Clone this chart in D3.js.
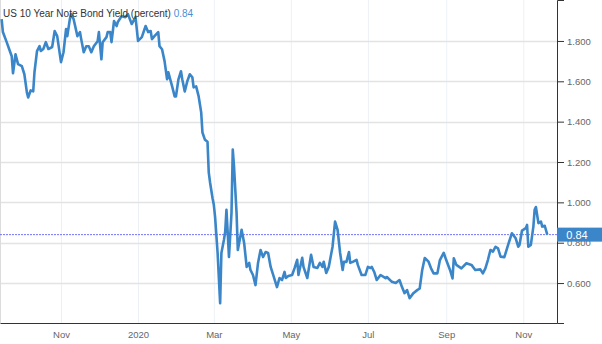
<!DOCTYPE html>
<html>
<head>
<meta charset="utf-8">
<script src="https://cdn.jsdelivr.net/npm/d3@7"></script>
<style>
body { margin: 0; background: #fff; }
svg { display: block; font-family: Arial, "Liberation Sans", sans-serif; }
</style>
</head>
<body>
<div id="chart"></div>
<script>
// US 10Y yield
const dates = [
    "2019-09-15", "2019-09-16", "2019-09-19", "2019-09-21", "2019-09-23", "2019-09-24", "2019-09-26", "2019-09-28",
    "2019-10-01", "2019-10-03", "2019-10-05", "2019-10-06", "2019-10-08", "2019-10-10", "2019-10-11", "2019-10-13",
    "2019-10-15", "2019-10-16", "2019-10-18", "2019-10-20", "2019-10-22", "2019-10-25", "2019-10-27", "2019-10-29",
    "2019-11-01", "2019-11-03", "2019-11-05", "2019-11-06", "2019-11-08", "2019-11-09", "2019-11-11", "2019-11-14",
    "2019-11-16", "2019-11-17", "2019-11-19", "2019-11-21", "2019-11-23", "2019-11-25", "2019-11-27", "2019-11-30",
    "2019-12-01", "2019-12-03", "2019-12-04", "2019-12-07", "2019-12-08", "2019-12-10", "2019-12-11", "2019-12-13",
    "2019-12-15", "2019-12-16", "2019-12-19", "2019-12-22", "2019-12-24", "2019-12-27", "2019-12-30",
    "2020-01-01", "2020-01-04", "2020-01-07", "2020-01-09", "2020-01-11", "2020-01-12", "2020-01-14", "2020-01-17",
    "2020-01-18", "2020-01-20", "2020-01-22", "2020-01-24", "2020-01-25", "2020-01-28", "2020-01-30", "2020-01-31",
    "2020-02-02", "2020-02-04", "2020-02-05", "2020-02-07", "2020-02-09", "2020-02-11", "2020-02-13", "2020-02-14",
    "2020-02-16", "2020-02-18", "2020-02-20", "2020-02-21", "2020-02-23", "2020-02-25", "2020-02-26", "2020-02-27",
    "2020-02-29", "2020-03-01", "2020-03-02", "2020-03-04", "2020-03-06", "2020-03-07", "2020-03-09", "2020-03-10",
    "2020-03-11", "2020-03-12", "2020-03-13", "2020-03-15", "2020-03-16", "2020-03-17", "2020-03-19", "2020-03-20",
    "2020-03-23", "2020-03-25", "2020-03-27", "2020-03-29", "2020-03-30", "2020-04-01", "2020-04-03", "2020-04-05",
    "2020-04-07", "2020-04-09", "2020-04-11", "2020-04-13", "2020-04-15", "2020-04-17", "2020-04-20", "2020-04-22",
    "2020-04-24", "2020-04-26", "2020-04-27", "2020-04-29", "2020-05-02", "2020-05-04", "2020-05-06", "2020-05-07",
    "2020-05-10", "2020-05-11", "2020-05-14", "2020-05-17", "2020-05-19", "2020-05-22", "2020-05-24", "2020-05-26",
    "2020-05-27", "2020-05-29", "2020-05-31", "2020-06-03", "2020-06-05", "2020-06-07", "2020-06-09", "2020-06-11",
    "2020-06-12", "2020-06-14", "2020-06-16", "2020-06-17", "2020-06-19", "2020-06-22", "2020-06-23", "2020-06-26",
    "2020-06-29", "2020-07-01", "2020-07-03", "2020-07-04", "2020-07-06", "2020-07-08", "2020-07-11", "2020-07-15",
    "2020-07-16", "2020-07-20", "2020-07-23", "2020-07-26", "2020-07-28", "2020-07-30", "2020-08-01", "2020-08-03",
    "2020-08-06", "2020-08-09", "2020-08-11", "2020-08-13", "2020-08-15", "2020-08-18", "2020-08-20", "2020-08-22",
    "2020-08-25", "2020-08-27", "2020-08-30", "2020-09-01", "2020-09-04", "2020-09-06", "2020-09-07", "2020-09-09",
    "2020-09-13", "2020-09-17", "2020-09-21", "2020-09-24", "2020-09-28", "2020-09-30", "2020-10-02", "2020-10-04",
    "2020-10-06", "2020-10-08", "2020-10-10", "2020-10-12", "2020-10-14", "2020-10-17", "2020-10-20", "2020-10-23",
    "2020-10-26", "2020-10-28", "2020-10-29", "2020-10-31", "2020-11-03", "2020-11-04", "2020-11-05", "2020-11-07",
    "2020-11-09", "2020-11-10", "2020-11-11", "2020-11-13", "2020-11-15", "2020-11-16", "2020-11-18", "2020-11-20"
];
const yields = [
    1.908, 1.844, 1.794, 1.759, 1.724, 1.640, 1.734, 1.685,
    1.675, 1.635, 1.545, 1.520, 1.555, 1.550, 1.645, 1.750,
    1.774, 1.750, 1.760, 1.794, 1.760, 1.770, 1.849, 1.824,
    1.695, 1.744, 1.859, 1.824, 1.908, 1.933, 1.908, 1.824,
    1.844, 1.809, 1.744, 1.774, 1.774, 1.744, 1.774, 1.799,
    1.844, 1.709, 1.794, 1.819, 1.844, 1.844, 1.794, 1.899,
    1.874, 1.894, 1.923, 1.918, 1.933, 1.884, 1.918,
    1.800, 1.819, 1.874, 1.844, 1.849, 1.809, 1.824, 1.844,
    1.774, 1.759, 1.700, 1.610, 1.645, 1.575, 1.525, 1.525,
    1.610, 1.650, 1.610, 1.550, 1.600, 1.635, 1.620, 1.570,
    1.575, 1.525, 1.446, 1.346, 1.310, 1.300, 1.147, 1.100,
    1.020, 0.988, 0.928, 0.749, 0.500, 0.749, 0.814, 0.854,
    0.963, 0.849, 0.729, 0.948, 1.262, 1.177, 0.948, 0.764,
    0.864, 0.799, 0.680, 0.700, 0.665, 0.640, 0.590, 0.700,
    0.764, 0.729, 0.754, 0.749, 0.680, 0.640, 0.580, 0.625,
    0.615, 0.655, 0.625, 0.635, 0.640, 0.675, 0.715, 0.640,
    0.725, 0.680, 0.625, 0.740, 0.680, 0.675, 0.700, 0.680,
    0.705, 0.650, 0.680, 0.780, 0.905, 0.864, 0.749, 0.665,
    0.705, 0.705, 0.754, 0.700, 0.705, 0.715, 0.690, 0.640,
    0.640, 0.680, 0.675, 0.680, 0.655, 0.615, 0.640, 0.624,
    0.630, 0.606, 0.600, 0.615, 0.580, 0.550, 0.565, 0.525,
    0.550, 0.565, 0.573, 0.665, 0.724, 0.706, 0.673, 0.648,
    0.648, 0.714, 0.750, 0.714, 0.665, 0.623, 0.723, 0.690,
    0.673, 0.698, 0.690, 0.665, 0.668, 0.648, 0.673, 0.714,
    0.764, 0.756, 0.780, 0.772, 0.731, 0.728, 0.789, 0.847,
    0.822, 0.780, 0.789, 0.860, 0.872, 0.888, 0.780, 0.789,
    0.880, 0.963, 0.977, 0.897, 0.905, 0.880, 0.884, 0.840
];
const yTicks = [0.6, 0.8, 1.0, 1.2, 1.4, 1.6, 1.8];
const xTickDates = ["2019-11-01", "2020-01-01", "2020-03-01", "2020-05-01", "2020-07-01", "2020-09-01", "2020-11-01"];
const xTickLabels = ["Nov", "2020", "Mar", "May", "Jul", "Sep", "Nov"];
const title = "US 10 Year Note Bond Yield (percent)";
const lastValue = 0.84;

const width = 602, height = 344;
const plotRight = 557, plotBottom = 323;
const lineColor = "#3a86c8";

const parse = d3.timeParse("%Y-%m-%d");
const data = dates.map((d, i) => ({ date: parse(d), value: yields[i] }));
const tickDates = xTickDates.map(parse);

const x = d3.scaleTime()
    .domain([new Date(2019, 8, 13, 17), new Date(2020, 10, 27, 17)])
    .range([0, plotRight]);

const y = d3.scaleLinear()
    .domain([0.402, 2.003])
    .range([plotBottom, 0]);

const svg = d3.select("#chart")
    .append("svg")
    .attr("width", width)
    .attr("height", height);

// grid
svg.append("g")
    .selectAll("line")
    .data(tickDates)
    .join("line")
    .attr("x1", d => x(d) + 0.5)
    .attr("x2", d => x(d) + 0.5)
    .attr("y1", 0)
    .attr("y2", plotBottom)
    .style("stroke", "#edf1f6");

svg.append("g")
    .selectAll("line")
    .data(yTicks)
    .join("line")
    .attr("x1", 0)
    .attr("x2", plotRight)
    .attr("y1", d => Math.round(y(d)) + 0.5)
    .attr("y2", d => Math.round(y(d)) + 0.5)
    .style("stroke", "#e3e3e3")
    .style("stroke-width", 1.5);

svg.append("line")
    .attr("x1", 0.5).attr("x2", 0.5)
    .attr("y1", 0).attr("y2", plotBottom)
    .style("stroke", "#dcdcdc");

// last value line
svg.append("line")
    .attr("x1", 0)
    .attr("x2", plotRight)
    .attr("y1", y(lastValue))
    .attr("y2", y(lastValue))
    .style("stroke", "#7373ff")
    .style("stroke-width", 1)
    .style("stroke-dasharray", "2,1");

// series
svg.append("path")
    .datum(data)
    .attr("d", d3.line().x(d => x(d.date)).y(d => y(d.value)))
    .style("fill", "none")
    .style("stroke", lineColor)
    .style("stroke-width", 2.6)
    .style("stroke-linejoin", "round");

// axes
const xAxis = svg.append("g")
    .attr("transform", "translate(0," + plotBottom + ")")
    .call(d3.axisBottom(x)
        .tickValues(tickDates)
        .tickFormat((d, i) => xTickLabels[i])
        .tickSize(0)
        .tickPadding(8));

const yAxis = svg.append("g")
    .attr("transform", "translate(" + plotRight + ",0)")
    .call(d3.axisRight(y)
        .tickValues(yTicks)
        .tickFormat(d3.format(".3f"))
        .tickSize(7)
        .tickSizeOuter(7)
        .tickPadding(3));

[xAxis, yAxis].forEach(g => {
    g.select(".domain").style("stroke", "#333");
    g.selectAll(".tick line").style("stroke", "#333");
    g.selectAll("text")
        .style("font-family", "Arial, 'Liberation Sans', sans-serif")
        .style("font-size", "9.5px")
        .style("fill", "#666");
});

// last value tag
svg.append("rect")
    .attr("x", plotRight)
    .attr("y", y(lastValue) - 7)
    .attr("width", width - plotRight)
    .attr("height", 14)
    .style("fill", lineColor);

svg.append("text")
    .attr("x", plotRight + 20)
    .attr("y", y(lastValue) + 4)
    .attr("text-anchor", "middle")
    .style("font-size", "11px")
    .style("fill", "#fff")
    .text(d3.format(".2f")(lastValue));

// title
const t = svg.append("text")
    .attr("x", 3)
    .attr("y", 17)
    .style("font-size", "10px")
    .style("fill", "#333")
    .text(title + " ");

t.append("tspan")
    .style("fill", "#4a8fd6")
    .text(d3.format(".2f")(lastValue));
</script>
</body>
</html>
